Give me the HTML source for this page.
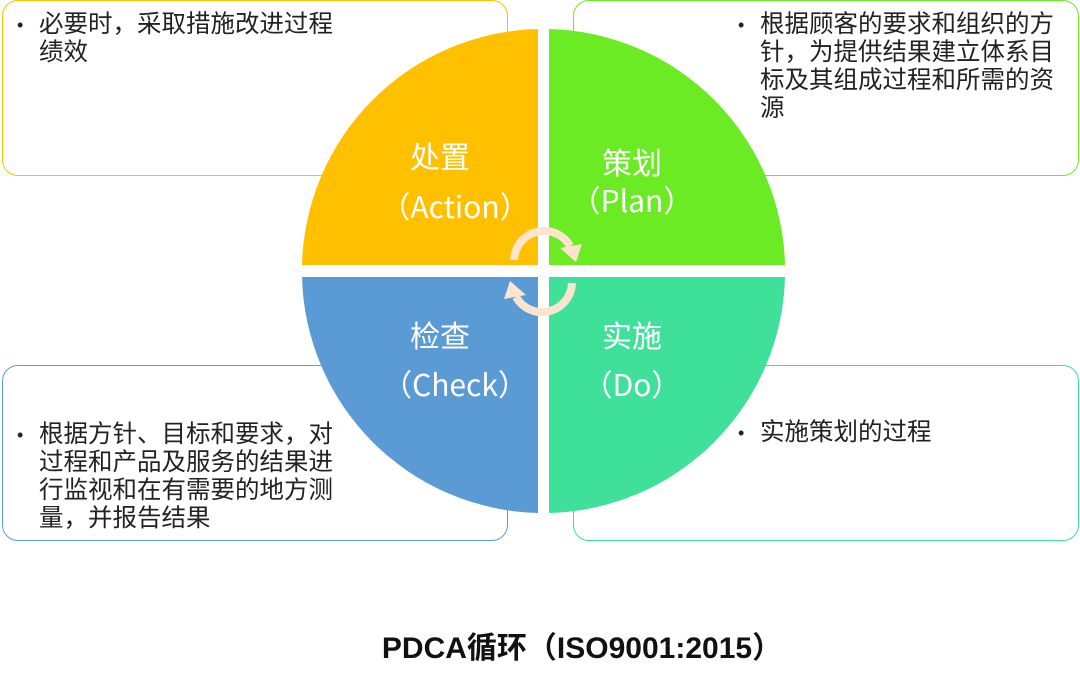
<!DOCTYPE html>
<html><head><meta charset="utf-8"><style>
body{margin:0;width:1080px;height:687px;background:#fff;position:relative;overflow:hidden;font-family:"Liberation Sans","Noto Sans CJK SC",sans-serif;}
.box{position:absolute;border-radius:16px;border:1.5px solid;background:#fff;box-sizing:border-box;font-size:24.5px;color:#222;line-height:28px;white-space:nowrap;}
.box ul{margin:0;padding:0 0 0 36px;}
.box li{list-style:none;position:relative;}
.box li:before{content:"•";position:absolute;left:-22px;font-size:18px;}
.cap{position:absolute;top:629px;left:42px;width:1080px;text-align:center;font-size:30px;line-height:40px;font-weight:bold;color:#111;}
svg{position:absolute;left:0;top:0;}
</style></head><body>
<div class="box" style="left:2px;top:0;width:506px;height:176px;border-color:#FFC000;padding-top:10px"><ul><li>必要时，采取措施改进过程<br>绩效</li></ul></div>
<div class="box" style="left:573px;top:0;width:506px;height:176px;border-color:#6BEB24;padding-top:10px;padding-left:150px"><ul><li>根据顾客的要求和组织的方<br>针，为提供结果建立体系目<br>标及其组成过程和所需的资<br>源</li></ul></div>
<div class="box" style="left:2px;top:365px;width:506px;height:176px;border-color:#5B9BD5;padding-top:55px"><ul><li>根据方针、目标和要求，对<br>过程和产品及服务的结果进<br>行监视和在有需要的地方测<br>量，并报告结果</li></ul></div>
<div class="box" style="left:573px;top:365px;width:506px;height:176px;border-color:#3FE09A;padding-top:53px;padding-left:150px"><ul><li>实施策划的过程</li></ul></div>
<svg width="1080" height="687">
<path d="M538,271 L538,29 A242,242 0 0 0 302,265 L538,265 Z" fill="#FFC000"/>
<path d="M549,265 L785,265 A242,242 0 0 0 549,29 Z" fill="#6BEB24"/>
<path d="M538,277 L302,277 A242,242 0 0 0 538,513 Z" fill="#5B9BD5"/>
<path d="M549,277 L549,513 A242,242 0 0 0 785,277 Z" fill="#3FE09A"/>
<g fill="none" stroke="#FCE4CF" stroke-width="8">
<path d="M514,260 A30,30 0 0 1 570,246"/>
<path d="M572,283 A30,30 0 0 1 516,297"/>
</g>
<polygon points="560,248 582,244 576,262" fill="#FCE4CF"/>
<polygon points="526,295 504,299 510,281" fill="#FCE4CF"/>
<g fill="#fff" font-size="30" text-anchor="middle" font-family="Noto Sans CJK SC,sans-serif">
<text x="440" y="168">处置</text><text x="455" y="218">（Action）</text>
<text x="632" y="174">策划</text><text x="632" y="212">（Plan）</text>
<text x="440" y="347">检查</text><text x="455" y="396">（Check）</text>
<text x="632" y="347">实施</text><text x="632" y="396">（Do）</text>
</g>
</svg>
<div class="cap">PDCA循环（ISO9001:2015）</div>
</body></html>
